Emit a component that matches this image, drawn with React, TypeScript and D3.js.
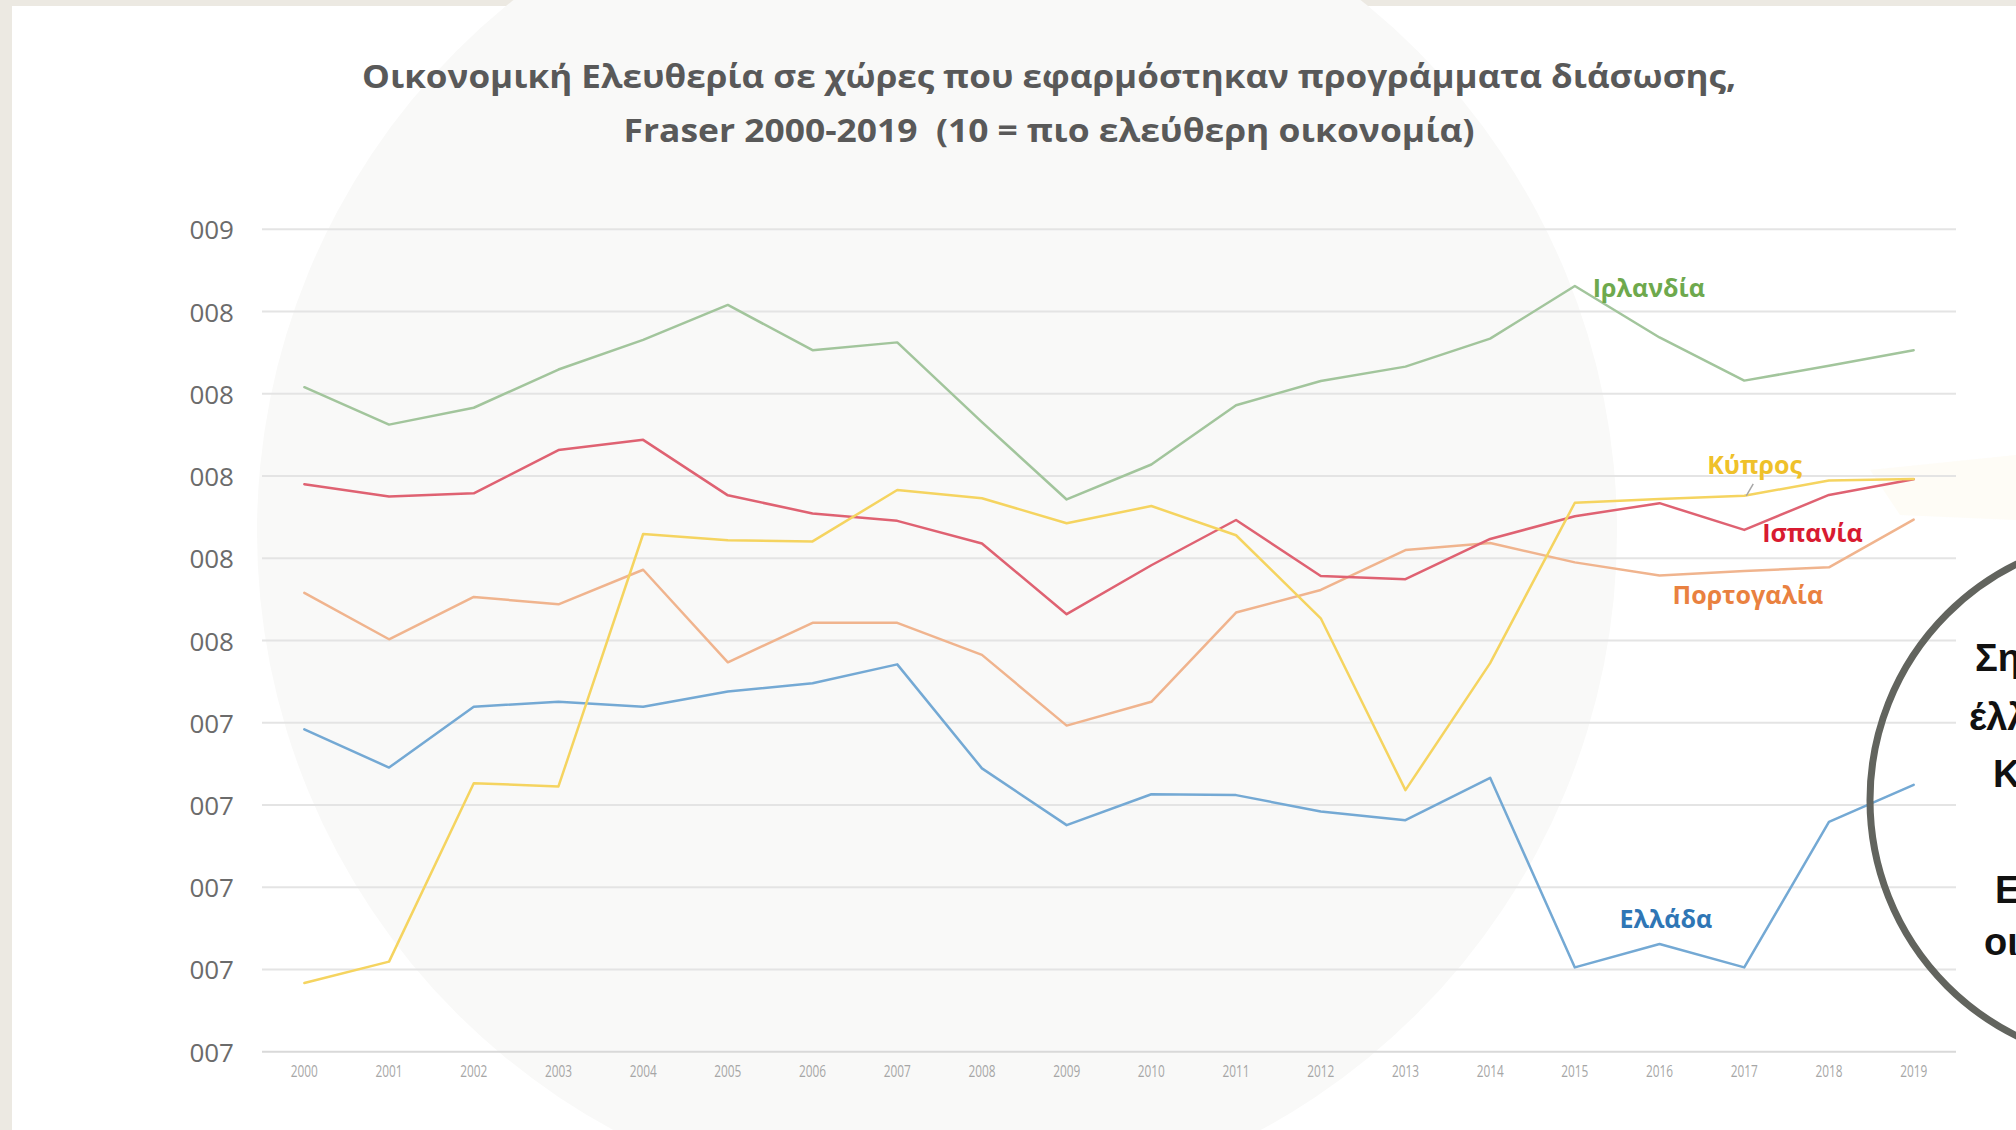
import * as d3 from "d3";

const years = ["2000", "2001", "2002", "2003", "2004", "2005", "2006", "2007", "2008", "2009",
  "2010", "2011", "2012", "2013", "2014", "2015", "2016", "2017", "2018", "2019"];

const ireland = [8.616, 8.525, 8.566, 8.659, 8.731, 8.816, 8.706, 8.725, 8.531, 8.343,
  8.428, 8.572, 8.631, 8.666, 8.734, 8.862, 8.737, 8.632, 8.668, 8.706];
const spain = [8.38, 8.35, 8.358, 8.463, 8.488, 8.353, 8.309, 8.291, 8.236, 8.064,
  8.183, 8.293, 8.157, 8.149, 8.247, 8.302, 8.334, 8.269, 8.354, 8.392];
const cyprus = [7.167, 7.219, 7.653, 7.645, 8.259, 8.244, 8.241, 8.366, 8.346, 8.285,
  8.327, 8.256, 8.054, 7.636, 7.945, 8.335, 8.344, 8.352, 8.389, 8.393];
const portugal = [8.116, 8.003, 8.106, 8.088, 8.172, 7.947, 8.043, 8.043, 7.965, 7.793,
  7.851, 8.068, 8.123, 8.22, 8.237, 8.19, 8.158, 8.169, 8.178, 8.294];
const greece = [7.784, 7.691, 7.839, 7.851, 7.839, 7.876, 7.896, 7.942, 7.689, 7.551,
  7.626, 7.624, 7.584, 7.563, 7.666, 7.205, 7.262, 7.205, 7.559, 7.649];

// gridline values and the labels exactly as printed on the chart
const yTicks = [9.0, 8.8, 8.6, 8.4, 8.2, 8.0, 7.8, 7.6, 7.4, 7.2, 7.0];
const yTickLabels = ["009", "008", "008", "008", "008", "008", "007", "007", "007", "007", "007"];

const titleLines = [
  "Οικονομική Ελευθερία σε χώρες που εφαρμόστηκαν προγράμματα διάσωσης,",
  "Fraser 2000-2019  (10 = πιο ελεύθερη οικονομία)",
];

const calloutLines = ["Ση", "έλλ", "Κα", "", "Ελ", "οι"];

const series = [
  { name: "Ελλάδα", values: greece, line: "#74a9d4", text: "#2f76b5", year: "2016", dx: -40, dy: -16 },
  { name: "Ιρλανδία", values: ireland, line: "#a2c59c", text: "#6ea94d", year: "2015", dx: 18, dy: 11 },
  { name: "Πορτογαλία", values: portugal, line: "#f0b48e", text: "#e98140", year: "2016", dx: 13, dy: 28 },
  { name: "Ισπανία", values: spain, line: "#df6272", text: "#d81b31", year: "2017", dx: 18, dy: 12 },
  { name: "Κύπρος", values: cyprus, line: "#f5d460", text: "#efc12a", year: "2017", dx: -37, dy: -22 },
];

const W = 2016;
const H = 1130;

export default function App() {
  const x = d3.scalePoint<string>().domain(years).range([262, 1956]).padding(0.5);
  const y = d3.scaleLinear().domain([7, 9]).range([1051.7, 229.3]);

  const line = d3
    .line<number>()
    .x((_, i) => x(years[i]) as number)
    .y((d) => y(d));

  const cyp = series.find((s) => s.name === "Κύπρος")!;
  const cypX = x(cyp.year) as number;
  const cypY = y(cyp.values[years.indexOf(cyp.year)]);

  return (
    <svg
      width={W}
      height={H}
      viewBox={`0 0 ${W} ${H}`}
      style={{ position: "absolute", left: 0, top: 0, display: "block", background: "#fff" }}
    >
      {/* slide frame */}
      <rect x={0} y={0} width={W} height={6} fill="#ece9e2" />
      <rect x={0} y={0} width={12} height={H} fill="#ece9e2" />

      {/* faint watermark */}
      <circle cx={937} cy={532} r={680} fill="#f9f9f8" />
      <path d="M1870,470 L2016,455 L2016,520 L1900,515 Z" fill="#fdfaee" opacity={0.5} />

      {/* title */}
      <g fontFamily="'Open Sans', sans-serif" fontWeight={700} fill="#595959" textAnchor="middle">
        <text x={1049} y={88} fontSize={32} textLength={1374} lengthAdjust="spacingAndGlyphs">
          {titleLines[0]}
        </text>
        <text
          x={1049}
          y={142}
          fontSize={32}
          textLength={851}
          lengthAdjust="spacingAndGlyphs"
          style={{ whiteSpace: "pre" }}
        >
          {titleLines[1]}
        </text>
      </g>

      {/* gridlines */}
      {yTicks.map((t, i) => (
        <line
          key={`g${i}`}
          x1={262}
          x2={1956}
          y1={y(t)}
          y2={y(t)}
          stroke={i === yTicks.length - 1 ? "#d9d9d9" : "#e4e4e4"}
          strokeWidth={2}
        />
      ))}

      {/* y tick labels */}
      <g fontFamily="'Open Sans', sans-serif" fontSize={26} fill="#6b6b6b" textAnchor="end">
        {yTicks.map((t, i) => (
          <text key={`y${i}`} x={234} y={y(t)} dominantBaseline="central">
            {yTickLabels[i]}
          </text>
        ))}
      </g>

      {/* x tick labels */}
      <g fontFamily="'Open Sans', sans-serif" fontSize={16} fill="#a6a6a6" textAnchor="middle">
        {years.map((yr) => (
          <text
            key={yr}
            x={x(yr) as number}
            y={1071}
            dominantBaseline="central"
            textLength={27}
            lengthAdjust="spacingAndGlyphs"
          >
            {yr}
          </text>
        ))}
      </g>

      {/* series lines */}
      {series.map((s) => (
        <path
          key={s.name}
          d={line(s.values) || ""}
          fill="none"
          stroke={s.line}
          strokeWidth={2.5}
          strokeLinejoin="round"
          strokeLinecap="round"
        />
      ))}

      {/* leader for Κύπρος */}
      <line x1={cypX + 9} y1={cypY - 12} x2={cypX + 2} y2={cypY} stroke="#a6a6a6" strokeWidth={1.5} />

      {/* series labels */}
      <g fontFamily="'Open Sans', sans-serif" fontWeight={700} fontSize={25}>
        {series.map((s) => {
          const i = years.indexOf(s.year);
          return (
            <text key={`l${s.name}`} x={(x(s.year) as number) + s.dx} y={y(s.values[i]) + s.dy} fill={s.text}>
              {s.name}
            </text>
          );
        })}
      </g>

      {/* callout circle, cut by the right edge */}
      <circle cx={2133} cy={800} r={263} fill="none" stroke="#62645e" strokeWidth={7} />
      <g fontFamily="'Liberation Sans', Arial, sans-serif" fontWeight={700} fontSize={38} fill="#111">
        {calloutLines.map((t, i) => {
          const xs = [1975, 1969, 1993, 0, 1995, 1984];
          const ys = [671, 730, 787, 0, 903, 955];
          return t ? (
            <text key={`c${i}`} x={xs[i]} y={ys[i]}>
              {t}
            </text>
          ) : null;
        })}
      </g>
    </svg>
  );
}
